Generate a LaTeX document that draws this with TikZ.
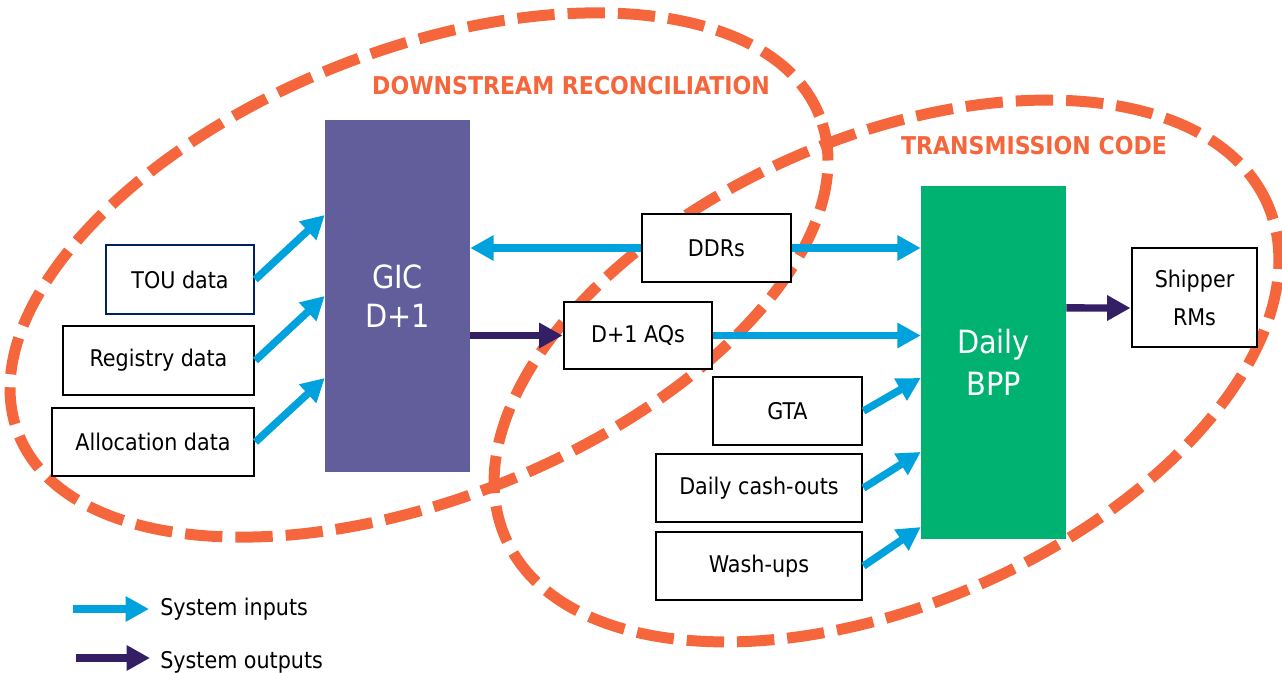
\documentclass[tikz,border=0pt]{standalone}
\usepackage{fontspec}
\IfFontExistsTF{DejaVu Sans Condensed}
  {\setmainfont{DejaVu Sans Condensed}}
  {\setmainfont{DejaVu Sans}[FakeStretch=0.9]}
\usetikzlibrary{arrows.meta}

\definecolor{ovalorange}{RGB}{245,102,60}
\definecolor{inblue}{RGB}{0,162,222}
\definecolor{outpurple}{RGB}{52,30,100}
\definecolor{gicpurple}{RGB}{98,94,155}
\definecolor{bppgreen}{RGB}{0,178,114}
\definecolor{navyline}{RGB}{0,32,96}

\tikzset{
  box/.style={draw=black, line width=2.2pt, fill=white, inner sep=0pt,
    align=center, font=\fontsize{17.25}{28.5}\selectfont},
  sysbox/.style={inner sep=0pt, text=white, align=center,
    font=\fontsize{24}{29}\selectfont},
  flowin/.style={draw=inblue, line width=5.6pt,
    -{Triangle[length=17.5pt,width=18pt]}},
  flowout/.style={draw=outpurple, line width=5.6pt,
    -{Triangle[length=17.5pt,width=18pt]}},
  oval/.style={draw=ovalorange, line width=8.25pt,
    dash pattern=on 28pt off 9.75pt},
  heading/.style={text=ovalorange, inner sep=0pt,
    font=\bfseries\fontsize{18.4}{20}\selectfont},
  legendtext/.style={inner sep=0pt, anchor=base west,
    font=\fontsize{17.25}{20}\selectfont},
}

\begin{document}
\begin{tikzpicture}[x=0.75pt,y=-0.75pt]
\useasboundingbox (0,0) rectangle (1282,673);

% the two scopes
\draw[oval, rotate around={21.7:(419,275)}] (419,275)
  ellipse [x radius=323.25pt, y radius=168pt];
\draw[oval, rotate around={23.65:(886.5,371)}] (886.5,371)
  ellipse [x radius=312pt, y radius=174.75pt];

\node[heading] (hdown) at (571,86) {DOWNSTREAM RECONCILIATION};
\node[heading] (htrans) at (1034,146) {TRANSMISSION CODE};

% systems
\node[sysbox, fill=gicpurple, minimum width=108.75pt, minimum height=264pt]
  (gic) at (397.5,296) {GIC\\D+1};
\node[sysbox, fill=bppgreen, minimum width=108.75pt, minimum height=264.75pt]
  (bpp) at (993.5,362.5) {\raisebox{2.5pt}{Daily}\\BPP};

% data boxes
\node[box, draw=navyline, line width=1.9pt, minimum width=111pt, minimum height=51.75pt]
  (tou) at (180,279.5) {TOU data};
\node[box, minimum width=143.25pt, minimum height=51.75pt]
  (reg) at (158.5,360.5) {Registry data};
\node[box, minimum width=151.5pt, minimum height=51pt]
  (alloc) at (153,442) {Allocation data};
\node[box, minimum width=111.75pt, minimum height=51pt]
  (ddrs) at (716.5,248) {DDRs};
\node[box, minimum width=111pt, minimum height=50.25pt]
  (aqs) at (638,335.5) {D+1 AQs};
\node[box, minimum width=93.75pt, minimum height=74.25pt]
  (ship) at (1194.5,297.5) {\raisebox{-4pt}{Shipper}\\\raisebox{-4pt}{RMs}};
\node[box, minimum width=111.75pt, minimum height=51pt]
  (gta) at (787.5,411) {GTA};
\node[box, minimum width=154.5pt, minimum height=51pt]
  (cash) at (759,488) {Daily cash-outs};
\node[box, minimum width=154.5pt, minimum height=51pt]
  (wash) at (759,566) {Wash-ups};

% inputs to GIC
\draw[flowin] (tou.east) -- ([yshift=60.75pt]gic.west);
\draw[flowin] (reg.east) -- (gic.west);
\draw[flowin] (alloc.east) -- ([yshift=-61.5pt]gic.west);
\draw[flowin] (ddrs.west) -- (gic.east |- ddrs.west);

% GIC output
\draw[flowout] (gic.east |- aqs.west) -- (aqs.west);

% inputs to BPP
\draw[flowin] (ddrs.east) -- (bpp.west |- ddrs.east);
\draw[flowin] (aqs.east) -- (bpp.west |- aqs.east);
\draw[flowin] (gta.east) -- ([yshift=-11.6pt]bpp.west);
\draw[flowin] (cash.east) -- ([yshift=-67.1pt]bpp.west);
\draw[flowin] (wash.east) -- ([yshift=-123.4pt]bpp.west);

% BPP output
\draw[flowout] ([yshift=40.9pt]bpp.east) -- ([yshift=-7.9pt]ship.west);

% legend
\coordinate (lin0) at (73,609);
\coordinate (lin1) at (149,609);
\coordinate (lout0) at (76,658);
\coordinate (lout1) at (150,658);
\draw[flowin] (lin0) -- (lin1);
\draw[flowout] (lout0) -- (lout1);
\node[legendtext] (legin) at (160,615) {System inputs};
\node[legendtext] (legout) at (160,668) {System outputs};
\end{tikzpicture}
\end{document}
